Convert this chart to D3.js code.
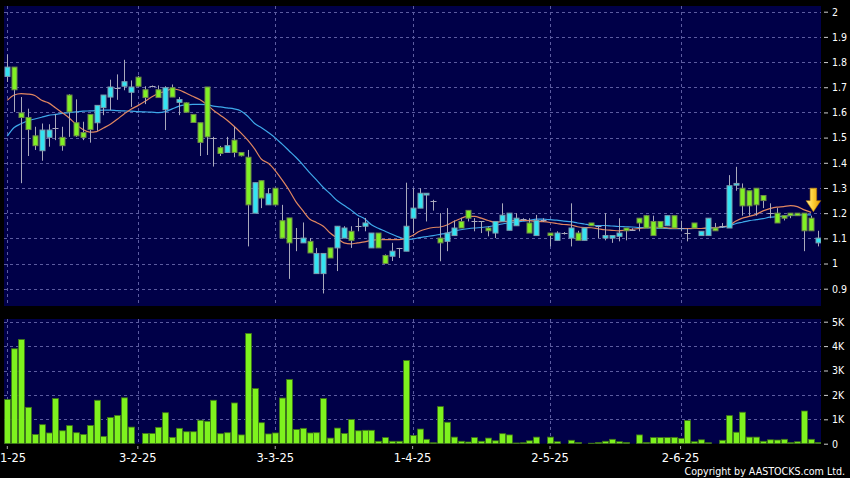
<!DOCTYPE html>
<html><head><meta charset="utf-8">
<script src="https://cdn.jsdelivr.net/npm/d3@7"></script>
<style>html,body{margin:0;padding:0;background:#000;} svg{display:block}</style>
</head><body>
<svg id="c" width="850" height="478"></svg>
<script>
// ---- data ----
const openP = [1.743,1.780,1.598,1.580,1.507,1.448,1.501,1.540,1.501,1.669,1.559,1.520,1.592,1.559,1.619,1.661,1.698,1.704,1.680,1.740,
1.690,1.704,1.690,1.611,1.698,1.640,1.638,1.592,1.559,1.701,1.497,1.460,1.441,1.490,1.441,1.422,1.200,1.329,1.233,1.299,
1.170,1.181,1.100,1.082,1.088,0.960,0.960,1.062,1.062,1.101,1.128,1.148,1.148,1.062,1.121,1.032,1.029,1.060,1.049,1.180,
1.220,1.272,1.250,1.101,1.088,1.111,1.167,1.211,1.167,1.167,1.141,1.121,1.167,1.132,1.150,1.176,1.161,1.111,1.171,1.121,
1.092,1.121,1.101,1.121,1.092,1.161,1.150,1.101,1.101,1.108,1.141,1.135,1.180,1.190,1.167,1.167,1.150,1.190,1.141,1.121,
1.161,1.111,1.111,1.141,1.150,1.141,1.311,1.299,1.289,1.299,1.270,1.200,1.200,1.190,1.200,1.200,1.200,1.180,1.082];
const highP = [1.830,1.780,1.661,1.615,1.543,1.556,1.553,1.593,1.543,1.672,1.652,1.563,1.592,1.628,1.669,1.730,1.751,1.809,1.727,1.745,
1.704,1.707,1.707,1.704,1.711,1.661,1.640,1.592,1.559,1.701,1.503,1.467,1.503,1.543,1.441,1.451,1.321,1.329,1.299,1.299,
1.233,1.181,1.141,1.163,1.101,1.062,1.040,1.062,1.148,1.148,1.148,1.181,1.181,1.121,1.121,1.036,1.082,1.062,1.321,1.299,
1.299,1.279,1.253,1.200,1.220,1.171,1.180,1.211,1.180,1.167,1.147,1.167,1.239,1.200,1.200,1.180,1.180,1.193,1.180,1.121,
1.128,1.125,1.239,1.130,1.141,1.161,1.150,1.200,1.111,1.180,1.141,1.140,1.180,1.193,1.190,1.167,1.190,1.190,1.170,1.141,
1.161,1.128,1.180,1.161,1.161,1.351,1.384,1.318,1.289,1.299,1.270,1.239,1.220,1.190,1.200,1.200,1.200,1.190,1.130];
const lowP = [1.721,1.602,1.319,1.427,1.451,1.408,1.464,1.490,1.448,1.503,1.503,1.490,1.480,1.527,1.589,1.609,1.650,1.688,1.622,1.700,
1.633,1.700,1.659,1.530,1.661,1.589,1.601,1.560,1.427,1.431,1.385,1.427,1.441,1.422,1.425,1.068,1.200,1.220,1.233,1.233,
1.101,0.939,1.049,1.082,1.042,0.960,0.881,1.022,0.970,1.101,1.062,1.128,1.128,1.062,1.062,1.000,1.010,1.022,1.049,1.121,
1.220,1.167,1.210,1.009,1.049,1.111,1.141,1.167,1.128,1.121,1.108,1.101,1.167,1.132,1.150,1.170,1.121,1.111,1.165,1.068,
1.092,1.115,1.068,1.092,1.092,1.150,1.101,1.092,1.082,1.088,1.092,1.130,1.128,1.141,1.111,1.141,1.150,1.141,1.128,1.088,
1.141,1.111,1.111,1.130,1.141,1.141,1.289,1.190,1.190,1.190,1.220,1.180,1.161,1.171,1.180,1.190,1.049,1.130,1.068];
const closeP = [1.780,1.690,1.580,1.532,1.468,1.530,1.530,1.540,1.468,1.602,1.507,1.501,1.532,1.628,1.669,1.701,1.698,1.722,1.701,1.704,
1.659,1.704,1.659,1.698,1.661,1.651,1.601,1.560,1.481,1.503,1.497,1.437,1.468,1.441,1.428,1.233,1.321,1.260,1.277,1.233,
1.101,1.082,1.100,1.101,1.042,1.040,1.040,1.022,1.148,1.141,1.092,1.148,1.161,1.121,1.062,1.000,1.049,1.060,1.148,1.220,
1.279,1.279,1.250,1.082,1.121,1.141,1.141,1.180,1.167,1.167,1.130,1.167,1.192,1.200,1.180,1.176,1.121,1.171,1.171,1.111,
1.121,1.121,1.141,1.092,1.141,1.150,1.150,1.111,1.111,1.121,1.130,1.135,1.161,1.141,1.111,1.141,1.190,1.141,1.141,1.121,
1.141,1.128,1.180,1.130,1.150,1.309,1.318,1.229,1.229,1.233,1.250,1.200,1.161,1.180,1.190,1.190,1.130,1.130,1.101];
const maShort = [1.648,1.669,1.675,1.673,1.667,1.648,1.638,1.619,1.599,1.578,1.553,1.532,1.522,1.524,1.538,1.553,1.573,1.594,1.613,1.627,
1.643,1.661,1.675,1.684,1.693,1.689,1.677,1.664,1.651,1.632,1.609,1.589,1.569,1.545,1.519,1.490,1.455,1.414,1.398,1.369,
1.332,1.292,1.246,1.211,1.177,1.163,1.148,1.121,1.101,1.082,1.078,1.082,1.086,1.092,1.095,1.095,1.095,1.095,1.100,1.111,
1.128,1.137,1.143,1.145,1.153,1.167,1.179,1.187,1.187,1.180,1.171,1.164,1.166,1.168,1.171,1.171,1.170,1.168,1.166,1.163,
1.159,1.155,1.153,1.146,1.143,1.142,1.138,1.134,1.132,1.130,1.133,1.136,1.139,1.142,1.145,1.143,1.142,1.139,1.139,1.139,
1.139,1.139,1.141,1.143,1.146,1.150,1.168,1.180,1.187,1.195,1.209,1.218,1.224,1.226,1.230,1.226,1.213,1.203,null];
const maLong = [1.506,1.540,1.555,1.567,1.574,1.581,1.588,1.592,1.596,1.599,1.602,1.605,1.606,1.607,1.609,1.609,1.607,1.606,1.605,1.603,
1.602,1.601,1.599,1.603,1.614,1.625,1.630,1.632,1.632,1.631,1.625,1.622,1.618,1.614,1.606,1.585,1.556,1.539,1.520,1.499,
1.474,1.448,1.422,1.393,1.361,1.332,1.302,1.277,1.250,1.231,1.213,1.192,1.178,1.154,1.140,1.128,1.116,1.105,1.096,1.097,
1.103,1.107,1.111,1.116,1.121,1.128,1.134,1.138,1.141,1.143,1.146,1.151,1.157,1.162,1.164,1.168,1.171,1.176,1.176,1.174,
1.172,1.168,1.166,1.161,1.157,1.153,1.151,1.151,1.149,1.147,1.146,1.145,1.143,1.142,1.141,1.139,1.139,1.138,1.138,1.138,
1.139,1.139,1.141,1.142,1.143,1.149,1.158,1.164,1.170,1.174,1.178,1.184,1.186,1.188,1.191,1.193,1.193,1.193,null];
const volumeK = [1.81,3.89,4.27,1.49,0.38,0.78,0.44,1.85,0.53,0.74,0.45,0.38,0.75,1.78,0.30,1.07,1.16,1.88,0.68,0,
0.42,0.42,0.67,1.27,0.26,0.63,0.49,0.49,0.96,0.92,1.78,0.41,0.45,1.67,0.36,4.52,2.26,0.86,0.40,0.44,
1.87,2.63,0.58,0.63,0.44,0.45,1.85,0.23,0.64,0.42,0.99,0.53,0.55,0.55,0.10,0.25,0.10,0.10,3.41,0.34,
0.60,0.18,0.04,1.52,0.88,0.27,0.10,0.07,0.25,0.10,0.23,0.12,0.41,0.36,0.03,0.04,0.12,0.27,0,0.27,
0.08,0,0.14,0.05,0,0.02,0.05,0.10,0.18,0.08,0.05,0,0.36,0.05,0.25,0.25,0.25,0.26,0.22,0.95,
0.08,0.16,0.04,0,0.14,1.15,0.47,1.29,0.27,0.27,0.10,0.16,0.15,0.18,0.05,0.08,1.34,0.18,0.05];
const priceTicks = [2,1.9,1.8,1.7,1.6,1.5,1.4,1.3,1.2,1.1,1,0.9];
const priceTickLabels = ["2","1.9","1.8","1.7","1.6","1.5","1.4","1.3","1.2","1.1","1","0.9"];
const volTicks = [0,1,2,3,4,5];
const volTickLabels = ["0","1K","2K","3K","4K","5K"];
const dateTickIdx = [0,19,39,59,79,98];
const dateTickLabels = ["2-1-25","3-2-25","3-3-25","1-4-25","2-5-25","2-6-25"];
const markIdx = 117;

// ---- drawing ----
const svg = d3.select("#c");
svg.append("rect").attr("width",850).attr("height",478).attr("fill","#000");
const NAVY = "#000048", GRID = "#5c5ca0";
const pTop = {x:4,y:6,w:817,h:300}, pBot = {x:4,y:319,w:817,h:124.7};

const idx = d3.range(openP.length);
const x = d3.scaleBand().domain(idx).range([3.87, 821.4]);
const xc = i => x(i) + x.bandwidth()/2;
const y = d3.scaleLinear().domain([0.9,2]).range([288.7,11.7]);
const yv = d3.scaleLinear().domain([0,5]).range([443.7,321.7]);

[pTop,pBot].forEach(p => svg.append("rect").attr("x",p.x).attr("y",p.y).attr("width",p.w).attr("height",p.h).attr("fill",NAVY));

const defs = svg.append("defs");
defs.append("clipPath").attr("id","ctop").append("rect").attr("x",pTop.x).attr("y",pTop.y).attr("width",pTop.w).attr("height",pTop.h);
defs.append("clipPath").attr("id","cbot").append("rect").attr("x",pBot.x).attr("y",pBot.y).attr("width",pBot.w).attr("height",pBot.h);
const gr = defs.append("linearGradient").attr("id","arrowG").attr("x1","0").attr("x2","1").attr("y1","0").attr("y2","0");
gr.append("stop").attr("offset","0").attr("stop-color","#fff09a");
gr.append("stop").attr("offset","0.45").attr("stop-color","#ffd23a");
gr.append("stop").attr("offset","1").attr("stop-color","#e39a00");

// grids
const gTop = svg.append("g").attr("clip-path","url(#ctop)");
const gBot = svg.append("g").attr("clip-path","url(#cbot)");
gTop.selectAll("line.h").data(priceTicks).join("line").attr("class","h")
  .attr("x1",pTop.x).attr("x2",pTop.x+pTop.w).attr("y1",d=>Math.round(y(d))+0.5).attr("y2",d=>Math.round(y(d))+0.5)
  .attr("stroke",GRID).attr("stroke-dasharray","3,3");
gTop.selectAll("line.v").data(dateTickIdx).join("line").attr("class","v")
  .attr("x1",d=>Math.round(xc(d))+0.5).attr("x2",d=>Math.round(xc(d))+0.5).attr("y1",pTop.y).attr("y2",pTop.y+pTop.h)
  .attr("stroke",GRID).attr("stroke-dasharray","3,3");
gBot.selectAll("line.h").data(volTicks.slice(1)).join("line").attr("class","h")
  .attr("x1",pBot.x).attr("x2",pBot.x+pBot.w).attr("y1",d=>Math.round(yv(d))+0.5).attr("y2",d=>Math.round(yv(d))+0.5)
  .attr("stroke",GRID).attr("stroke-dasharray","3,3");
gBot.selectAll("line.v").data(dateTickIdx).join("line").attr("class","v")
  .attr("x1",d=>Math.round(xc(d))+0.5).attr("x2",d=>Math.round(xc(d))+0.5).attr("y1",pBot.y).attr("y2",pBot.y+pBot.h)
  .attr("stroke",GRID).attr("stroke-dasharray","3,3");

// moving averages
const line = d3.line().defined(d=>d[1]!=null).x(d=>xc(d[0])).y(d=>y(d[1])).curve(d3.curveMonotoneX);
gTop.append("path").attr("d",line(maLong.map((v,i)=>[i,v]))).attr("fill","none").attr("stroke","#3ea8ea").attr("stroke-width",1.2);
gTop.append("path").attr("d",line(maShort.map((v,i)=>[i,v]))).attr("fill","none").attr("stroke","#e08660").attr("stroke-width",1.2);

// candles
const UP = "#33e4f2", DOWN = "#80f024", WICK = "#a9a9bb";
const cg = gTop.selectAll("g.c").data(idx).join("g").attr("class","c");
cg.append("line").attr("x1",i=>Math.round(xc(i))+0.5).attr("x2",i=>Math.round(xc(i))+0.5)
  .attr("y1",i=>y(highP[i])).attr("y2",i=>y(lowP[i])).attr("stroke",WICK).attr("stroke-width",1);
cg.filter(i=>openP[i]!==closeP[i]).append("rect")
  .attr("x",i=>Math.round(xc(i))-2).attr("width",5)
  .attr("y",i=>y(Math.max(openP[i],closeP[i])))
  .attr("height",i=>Math.max(1,Math.abs(y(openP[i])-y(closeP[i]))))
  .attr("fill",i=>closeP[i]>openP[i]?UP:DOWN)
  .attr("stroke",i=>closeP[i]>openP[i]?"#7c9eae":"#6f8a4a").attr("stroke-width",1);
cg.filter(i=>openP[i]===closeP[i]).append("line")
  .attr("x1",i=>Math.round(xc(i))-2.5).attr("x2",i=>Math.round(xc(i))+3.5)
  .attr("y1",i=>Math.round(y(openP[i]))+0.5).attr("y2",i=>Math.round(y(openP[i]))+0.5)
  .attr("stroke",WICK).attr("stroke-width",1);

// volume bars
gBot.selectAll("rect.v").data(idx.filter(i=>volumeK[i]>0)).join("rect").attr("class","v")
  .attr("x",i=>Math.round(xc(i))-2.5).attr("width",6)
  .attr("y",i=>yv(volumeK[i])).attr("height",i=>yv(0)-yv(volumeK[i]))
  .attr("fill","#7ef21e").attr("stroke","#3f7418").attr("stroke-width",0.8);

// arrow marker
const ax = xc(markIdx)+2.3, tipY = y(1.2)-1.5;
svg.append("path")
  .attr("d",`M${ax-3.3},${tipY-23.5}H${ax+3.3}V${tipY-11}H${ax+7.3}L${ax},${tipY}L${ax-7.3},${tipY-11}H${ax-3.3}Z`)
  .attr("fill","url(#arrowG)").attr("stroke","#b97a00").attr("stroke-width",0.6);

// axes
const fontAxis = "'DejaVu Sans Condensed','DejaVu Sans',sans-serif";
function styleAxis(g){
  g.select(".domain").remove();
  g.selectAll("line").attr("stroke","#d0d0d0");
  g.selectAll("text").attr("fill","#fff").style("font-family",fontAxis);
}
const ay = svg.append("g").attr("transform","translate(824,0)")
  .call(d3.axisRight(y).tickValues(priceTicks).tickFormat((d,i)=>priceTickLabels[i]).tickSize(4).tickPadding(4));
styleAxis(ay); ay.selectAll("text").style("font-size","10.5px");
const avy = svg.append("g").attr("transform","translate(824,0)")
  .call(d3.axisRight(yv).tickValues(volTicks).tickFormat((d,i)=>volTickLabels[i]).tickSize(4).tickPadding(4));
styleAxis(avy); avy.selectAll("text").style("font-size","10.5px");
const axb = svg.append("g").attr("transform","translate(0,446)")
  .call(d3.axisBottom(x).tickValues(dateTickIdx).tickFormat((d,i)=>dateTickLabels[i]).tickSize(3).tickPadding(5));
styleAxis(axb); axb.selectAll("text").style("font-size","11.5px").style("font-family","'DejaVu Sans',sans-serif");
axb.selectAll("line").attr("stroke","#aaa");

svg.append("text").attr("x",845).attr("y",475).attr("text-anchor","end")
  .attr("fill","#fff").style("font-family",fontAxis).style("font-size","10.6px")
  .text("Copyright by AASTOCKS.com Ltd.");
</script>
</body></html>
